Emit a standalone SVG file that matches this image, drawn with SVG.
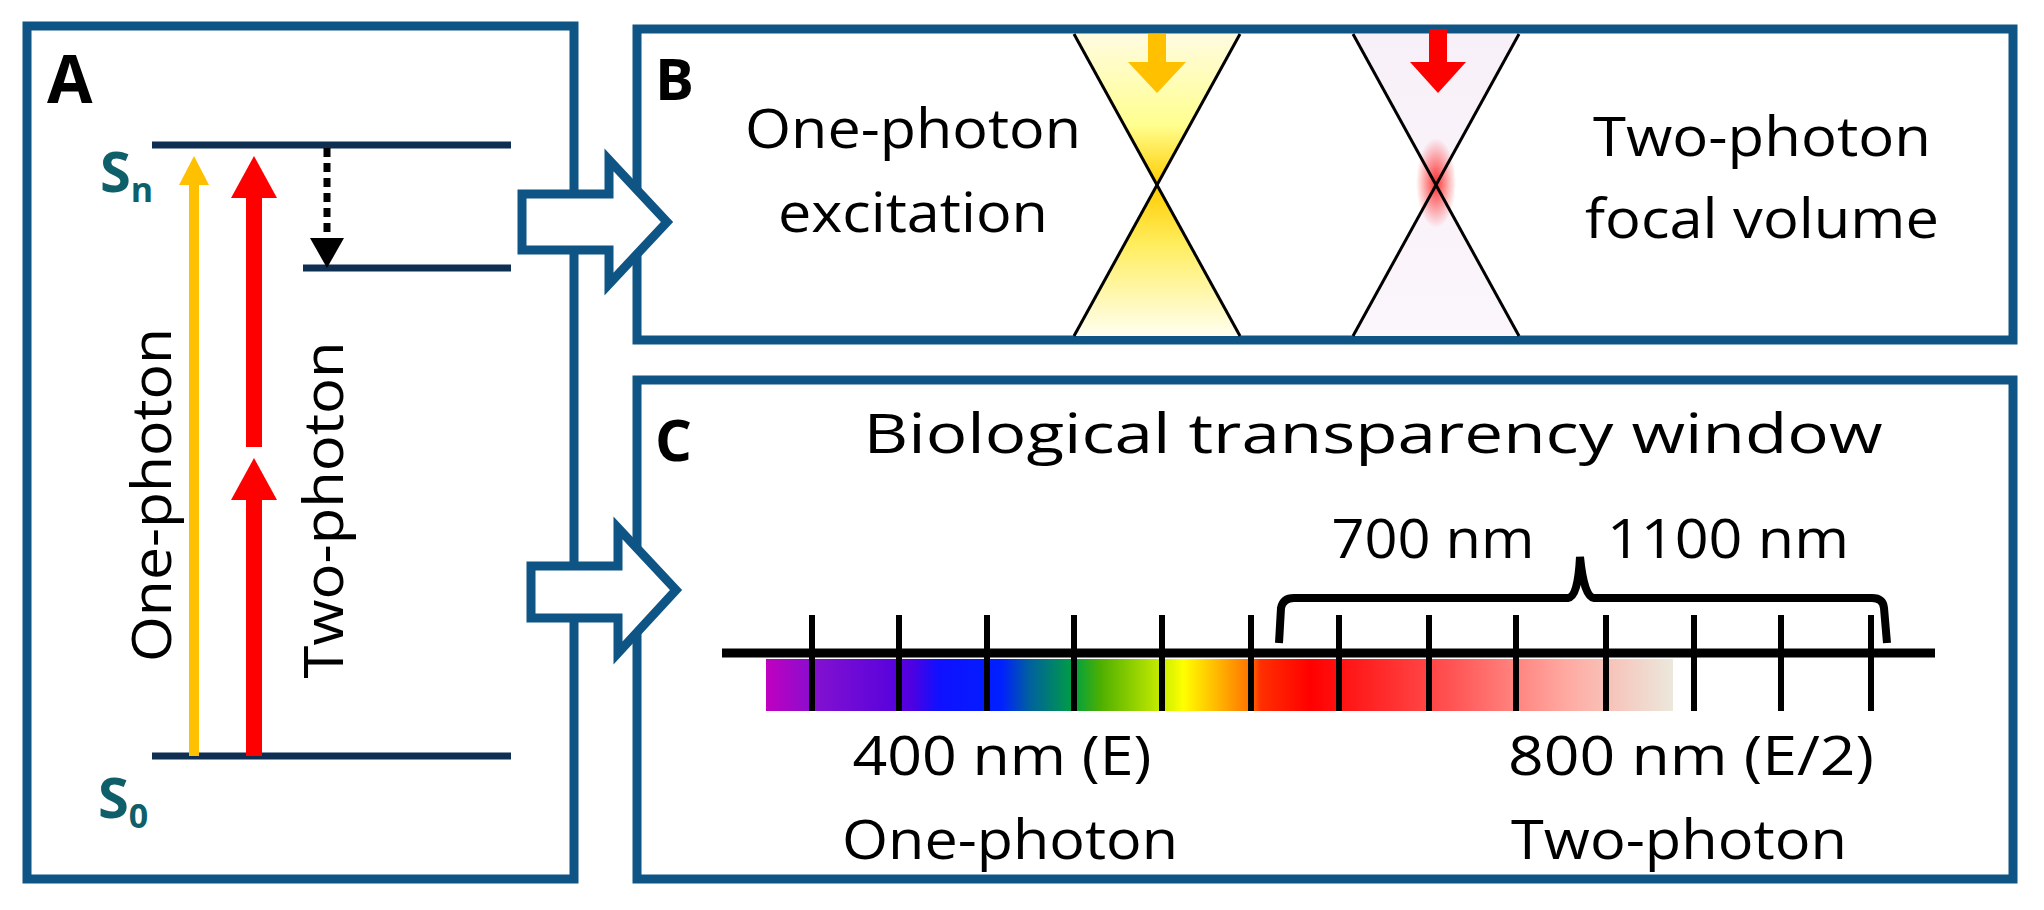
<svg xmlns="http://www.w3.org/2000/svg" width="2044" height="910" viewBox="0 0 2044 910">
<style>
.panel{fill:#fff;stroke:#0e5585;stroke-width:9}
.t{font-family:"Open Sans","DejaVu Sans",sans-serif;fill:#000;font-size:54px;text-anchor:middle}
.lbl{font-family:"Open Sans","DejaVu Sans",sans-serif;font-weight:bold}
.lvl{stroke:#0f2f52;stroke-width:7}
.tick{stroke:#000;stroke-width:6}
</style>
<defs>
<linearGradient id="spec" x1="0" x2="1" y1="0" y2="0">
<stop offset="0" stop-color="#c000c0"/>
<stop offset="0.06" stop-color="#8010d0"/>
<stop offset="0.16" stop-color="#5000e0"/>
<stop offset="0.19" stop-color="#1010ff"/>
<stop offset="0.26" stop-color="#0020ff"/>
<stop offset="0.29" stop-color="#0060a0"/>
<stop offset="0.34" stop-color="#00a040"/>
<stop offset="0.37" stop-color="#50b000"/>
<stop offset="0.44" stop-color="#d0f000"/>
<stop offset="0.46" stop-color="#ffff00"/>
<stop offset="0.535" stop-color="#ff7000"/>
<stop offset="0.545" stop-color="#ff3000"/>
<stop offset="0.6" stop-color="#ff0000"/>
<stop offset="0.75" stop-color="#ff5050"/>
<stop offset="0.88" stop-color="#ffa8a0"/>
<stop offset="1" stop-color="#ece8dc"/>
</linearGradient>
<linearGradient id="yel" x1="0" x2="0" y1="0" y2="1">
<stop offset="0" stop-color="#fffbe0"/>
<stop offset="0.3" stop-color="#ffff90"/>
<stop offset="0.5" stop-color="#ffcc00"/>
<stop offset="0.7" stop-color="#ffee60"/>
<stop offset="1" stop-color="#fffff0"/>
</linearGradient>
<radialGradient id="glow">
<stop offset="0" stop-color="#ff0000" stop-opacity="0.8"/>
<stop offset="1" stop-color="#ff0000" stop-opacity="0"/>
</radialGradient>
<linearGradient id="pale" x1="0" x2="0" y1="0" y2="1">
<stop offset="0" stop-color="#f8f0f8"/>
<stop offset="1" stop-color="#fbf6fb"/>
</linearGradient>
</defs>
<g id="panelA">
<rect class="panel" x="27" y="26" width="547" height="853"/>
<text class="lbl" x="47" y="103" font-size="66">A</text>
<line class="lvl" x1="152" y1="145" x2="511" y2="145"/>
<line class="lvl" x1="303" y1="268" x2="511" y2="268"/>
<line class="lvl" x1="152" y1="756" x2="511" y2="756"/>
<text class="lbl" x="100" y="192" fill="#0f5f6a" font-size="56">S<tspan font-size="34" dy="10">n</tspan></text>
<text class="lbl" x="98" y="818" fill="#0f5f6a" font-size="56">S<tspan font-size="34" dy="10">0</tspan></text>
<rect x="189" y="180" width="10" height="576" fill="#ffc000"/>
<path d="M179,185 L194,156 L209,185 Z" fill="#ffc000"/>
<rect x="246" y="196" width="16" height="251" fill="#ff0000"/>
<path d="M231,198 L254,156 L277,198 Z" fill="#ff0000"/>
<rect x="246" y="498" width="16" height="258" fill="#ff0000"/>
<path d="M231,500 L254,458 L277,500 Z" fill="#ff0000"/>
<line x1="327" y1="148" x2="327" y2="240" stroke="#000" stroke-width="7" stroke-dasharray="9,6"/>
<path d="M310,238 L344,238 L327,268 Z" fill="#000"/>
<text class="t" textLength="334" lengthAdjust="spacingAndGlyphs" transform="translate(171,495) rotate(-90)">One-photon</text>
<text class="t" textLength="337" lengthAdjust="spacingAndGlyphs" transform="translate(343,510) rotate(-90)">Two-photon</text>
</g>
<g id="panelB">
<rect class="panel" x="637" y="29" width="1376" height="311"/>
<text class="lbl" x="655" y="100" font-size="58">B</text>
<text class="t" x="913" y="148" textLength="336" lengthAdjust="spacingAndGlyphs">One-photon</text>
<text class="t" x="913" y="232" textLength="270" lengthAdjust="spacingAndGlyphs">excitation</text>
<text class="t" x="1762" y="156" textLength="338" lengthAdjust="spacingAndGlyphs">Two-photon</text>
<text class="t" x="1762" y="238" textLength="354" lengthAdjust="spacingAndGlyphs">focal volume</text>
<path d="M1074,34 L1240,34 L1074,336 L1240,336 Z" fill="url(#yel)"/>
<line x1="1074" y1="34" x2="1240" y2="336" stroke="#000" stroke-width="3"/>
<line x1="1240" y1="34" x2="1074" y2="336" stroke="#000" stroke-width="3"/>
<rect x="1148" y="34" width="18" height="30" fill="#ffc000"/>
<path d="M1128,62 L1186,62 L1157,93 Z" fill="#ffc000"/>
<path d="M1353,34 L1519,34 L1353,336 L1519,336 Z" fill="url(#pale)"/>
<ellipse cx="1436" cy="183" rx="20" ry="45" fill="url(#glow)"/>
<line x1="1353" y1="34" x2="1519" y2="336" stroke="#000" stroke-width="3"/>
<line x1="1519" y1="34" x2="1353" y2="336" stroke="#000" stroke-width="3"/>
<rect x="1429" y="29" width="18" height="35" fill="#ff0000"/>
<path d="M1410,62 L1466,62 L1438,93 Z" fill="#ff0000"/>
</g>
<g id="panelC">
<rect class="panel" x="637" y="380" width="1376" height="499"/>
<text class="lbl" x="655" y="461" font-size="58">C</text>
<text class="t" x="1373" y="453" font-size="64" textLength="1019" lengthAdjust="spacingAndGlyphs">Biological transparency window</text>
<rect x="766" y="659" width="907" height="52" fill="url(#spec)"/>
<line x1="722" y1="653" x2="1935" y2="653" stroke="#000" stroke-width="9"/>
<g class="tick">
<line x1="812" y1="615" x2="812" y2="711"/><line x1="899" y1="615" x2="899" y2="711"/>
<line x1="987" y1="615" x2="987" y2="711"/><line x1="1074" y1="615" x2="1074" y2="711"/>
<line x1="1162" y1="615" x2="1162" y2="711"/><line x1="1251" y1="615" x2="1251" y2="711"/>
<line x1="1339" y1="615" x2="1339" y2="711"/><line x1="1429" y1="615" x2="1429" y2="711"/>
<line x1="1516" y1="615" x2="1516" y2="711"/><line x1="1606" y1="615" x2="1606" y2="711"/>
<line x1="1694" y1="615" x2="1694" y2="711"/><line x1="1781" y1="615" x2="1781" y2="711"/>
<line x1="1871" y1="615" x2="1871" y2="711"/>
</g>
<path d="M1279,643 L1281,608 Q1283,598 1294,598 L1568,598 Q1578,597 1580,557 Q1584,597 1594,598 L1872,598 Q1883,598 1884,608 L1887,643" fill="none" stroke="#000" stroke-width="8"/>
<text class="t" x="1433" y="558" textLength="203" lengthAdjust="spacingAndGlyphs">700 nm</text>
<text class="t" x="1728" y="558" textLength="242" lengthAdjust="spacingAndGlyphs">1100 nm</text>
<text class="t" x="1002" y="775" textLength="299" lengthAdjust="spacingAndGlyphs">400 nm (E)</text>
<text class="t" x="1010" y="859" textLength="336" lengthAdjust="spacingAndGlyphs">One-photon</text>
<text class="t" x="1691" y="775" textLength="366" lengthAdjust="spacingAndGlyphs">800 nm (E/2)</text>
<text class="t" x="1679" y="859" textLength="336" lengthAdjust="spacingAndGlyphs">Two-photon</text>
</g>
<g id="connectors">
<path d="M522,194 L609,194 L609,160 L667,222 L609,284 L609,250 L522,250 Z" fill="#fff" stroke="#0e5585" stroke-width="9"/>
<path d="M531,566 L618,566 L618,528 L676,590 L618,653 L618,618 L531,618 Z" fill="#fff" stroke="#0e5585" stroke-width="9"/>
</g>
</svg>
